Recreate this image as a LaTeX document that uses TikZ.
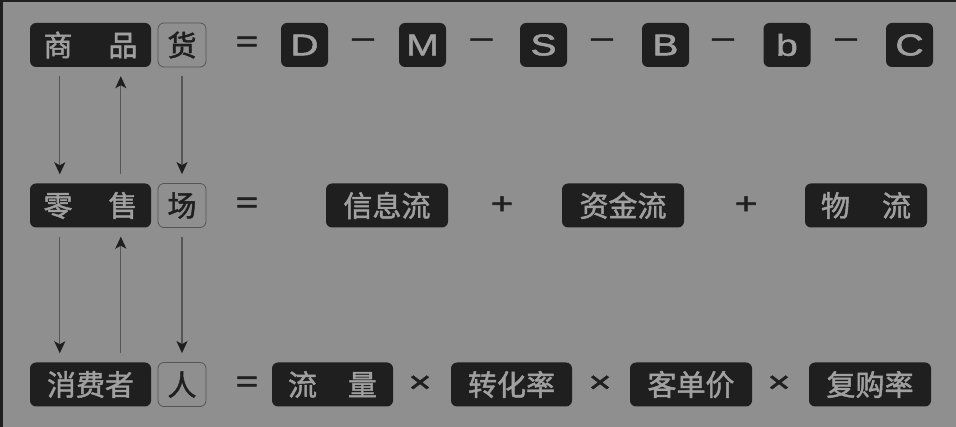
\documentclass[tikz,border=0pt]{standalone}
\usepackage{fontspec}
\setmainfont{Liberation Sans}
\newfontfamily\cjk[FakeBold=1.6]{Noto Sans CJK SC}
\newfontfamily\widesans[FakeStretch=1.3,FakeBold=1.8]{Liberation Sans}
\usetikzlibrary{arrows.meta}
\definecolor{bgray}{HTML}{8F8F8F}
\definecolor{ink}{HTML}{1F1F1F}
\definecolor{boxtext}{HTML}{A0A0A0}
\definecolor{lineg}{HTML}{555555}
\begin{document}
\begin{tikzpicture}[x=1pt,y=-1pt,
  darkbox/.style={fill=ink,rounded corners=6pt,text=boxtext,inner sep=0pt,
    minimum width=121pt,minimum height=44pt,font=\cjk\fontsize{29}{30}\selectfont},
  letbox/.style={darkbox,minimum width=47pt,font=\widesans\fontsize{30}{30}\selectfont},
  litbox/.style={draw=lineg,line width=0.8pt,rounded corners=6pt,text=ink,inner sep=0pt,
    minimum width=48pt,minimum height=44pt,font=\cjk\fontsize{29}{30}\selectfont},
  op/.style={text=ink,inner sep=0pt,font=\widesans\fontsize{30}{30}\selectfont},
  flow/.style={draw=lineg,line width=1.3pt,shorten <=9pt,shorten >=9pt,
    -{Stealth[length=12pt,width=11pt,inset=3pt,color=ink]}}]
\useasboundingbox (0,0) rectangle (956,427);
\fill[bgray] (0,0) rectangle (956,427);
\fill[ink] (0,0) rectangle (956,2);
\fill[ink] (0,0) rectangle (2.5,427);

% goods
\node[darkbox] (sp) at (90.5,45) {商\hspace{36pt}品};
\node[litbox] (huo) at (182,45) {货};
\node[op] (eqa) at (247,44) {=};
\foreach \n/\x in {D/304.5,M/422.5,S/543.5,B/665.5,b/787,C/909.5}
  \node[letbox] (\n) at (\x,45) {\n};
\foreach \x in {363,481.5,602,723,846}
  \node[op] at (\x,43) {–};

% market
\node[darkbox] (ls) at (90.5,205.5) {零\hspace{36pt}售};
\node[litbox] (chang) at (182,205.5) {场};
\node[op] (eqb) at (247,205) {=};
\node[darkbox,minimum width=122pt] (xxl) at (387,205.5) {信息流};
\node[op] (pla) at (502,205) {+};
\node[darkbox,minimum width=122pt] (zjl) at (623,205.5) {资金流};
\node[op] (plb) at (746,205) {+};
\node[darkbox,minimum width=122pt] (wl) at (866,205.5) {物\hspace{32pt}流};

% people
\node[darkbox] (xfz) at (90.5,384.5) {消费者};
\node[litbox] (ren) at (182,384.5) {人};
\node[op] (eqc) at (247,384) {=};
\node[darkbox] (ll) at (332.5,384.5) {流\hspace{31pt}量};
\node[op] (mua) at (420,384) {×};
\node[darkbox] (zhl) at (511.5,384.5) {转化率};
\node[op] (mub) at (600,384) {×};
\node[darkbox,minimum width=122pt] (kdj) at (691,384.5) {客单价};
\node[op] (muc) at (779,384) {×};
\node[darkbox,minimum width=122pt] (fgl) at (870,384.5) {复购率};

% arrows
\draw[flow] ([xshift=30pt]sp.south west) -- ([xshift=30pt]ls.north west);
\draw[flow] ([xshift=91pt]ls.north west) -- ([xshift=91pt]sp.south west);
\draw[flow] (huo.south) -- (chang.north);
\draw[flow] ([xshift=30pt]ls.south west) -- ([xshift=30pt]xfz.north west);
\draw[flow] ([xshift=91pt]xfz.north west) -- ([xshift=91pt]ls.south west);
\draw[flow] (chang.south) -- (ren.north);
\end{tikzpicture}
\end{document}
